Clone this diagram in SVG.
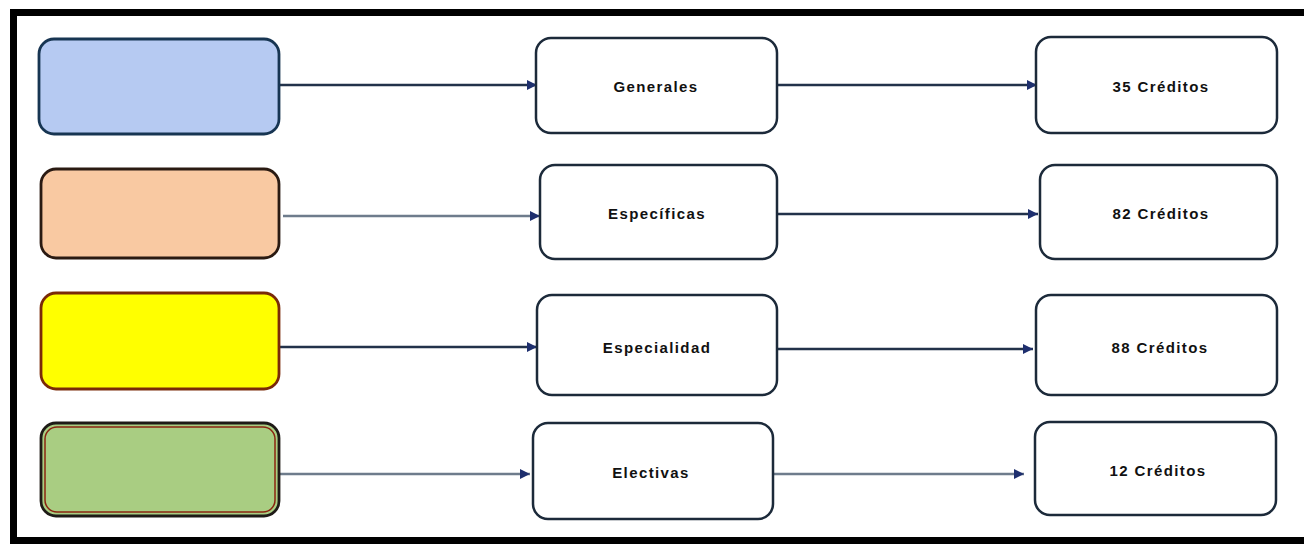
<svg xmlns="http://www.w3.org/2000/svg" width="1304" height="544" viewBox="0 0 1304 544">
<style>
.frame{fill:none;stroke:#000;stroke-width:7}
.box{fill:#fff;stroke:#1c2a3a;stroke-width:2.5}
.lbl{font-family:"Liberation Sans",Arial,sans-serif;font-weight:bold;font-size:15px;letter-spacing:1.4px;fill:#111;text-anchor:middle;dominant-baseline:central}
.c{stroke:#22324a;stroke-width:2.4;fill:none}
.cg{stroke:#6e7c8c;stroke-width:2.4;fill:none}
</style>
<defs>
<marker id="ah" viewBox="0 0 10 10" refX="10" refY="5" markerWidth="13" markerHeight="10" markerUnits="userSpaceOnUse" orient="auto">
<path d="M0,0 L10,5 L0,10 z" fill="#1e2f6e"/>
</marker>
</defs>
<rect x="0" y="0" width="1304" height="544" fill="#fff"/>
<rect class="frame" x="13.5" y="12.5" width="1300" height="528"/>

<g id="connectors">
<line class="c" x1="279" y1="85" x2="537" y2="85" marker-end="url(#ah)"/>
<line class="c" x1="777" y1="85" x2="1037" y2="85" marker-end="url(#ah)"/>
<line class="cg" x1="283" y1="216" x2="540" y2="216" marker-end="url(#ah)"/>
<line class="c" x1="777" y1="214" x2="1038" y2="214" marker-end="url(#ah)"/>
<line class="c" x1="279" y1="347" x2="537" y2="347" marker-end="url(#ah)"/>
<line class="c" x1="777" y1="349" x2="1033" y2="349" marker-end="url(#ah)"/>
<line class="cg" x1="280" y1="474" x2="530" y2="474" marker-end="url(#ah)"/>
<line class="cg" x1="774" y1="474" x2="1024" y2="474" marker-end="url(#ah)"/>
</g>

<g id="blue"><rect x="39" y="39" width="240" height="95" rx="15" fill="#b6caf2" stroke="#173552" stroke-width="2.8"/></g>
<g id="orange"><rect x="41" y="169" width="238" height="89" rx="15" fill="#f9c9a2" stroke="#2a1a12" stroke-width="2.8"/></g>
<g id="yellow"><rect x="41" y="293" width="238" height="96" rx="15" fill="#ffff00" stroke="#7a2a08" stroke-width="2.8"/></g>
<g id="green"><rect x="41" y="423" width="238" height="93" rx="15" fill="#a9cd82" stroke="#1e1a16" stroke-width="2.8"/><rect x="45" y="427" width="230" height="85" rx="12" fill="none" stroke="#8a2410" stroke-width="1.5"/></g>

<g id="generales"><rect class="box" x="536" y="38" width="241" height="95" rx="15"/><text class="lbl" x="656" y="86">Generales</text></g>
<g id="especificas"><rect class="box" x="540" y="165" width="237" height="94" rx="15"/><text class="lbl" x="657" y="213">Específicas</text></g>
<g id="especialidad"><rect class="box" x="537" y="295" width="240" height="100" rx="15"/><text class="lbl" x="657" y="347">Especialidad</text></g>
<g id="electivas"><rect class="box" x="533" y="423" width="240" height="96" rx="15"/><text class="lbl" x="651" y="472">Electivas</text></g>

<g id="c35"><rect class="box" x="1036" y="37" width="241" height="96" rx="15"/><text class="lbl" x="1161" y="86">35 Créditos</text></g>
<g id="c82"><rect class="box" x="1040" y="165" width="237" height="94" rx="15"/><text class="lbl" x="1161" y="213">82 Créditos</text></g>
<g id="c88"><rect class="box" x="1036" y="295" width="241" height="100" rx="15"/><text class="lbl" x="1160" y="347">88 Créditos</text></g>
<g id="c12"><rect class="box" x="1035" y="422" width="241" height="93" rx="15"/><text class="lbl" x="1158" y="470">12 Créditos</text></g>
</svg>
